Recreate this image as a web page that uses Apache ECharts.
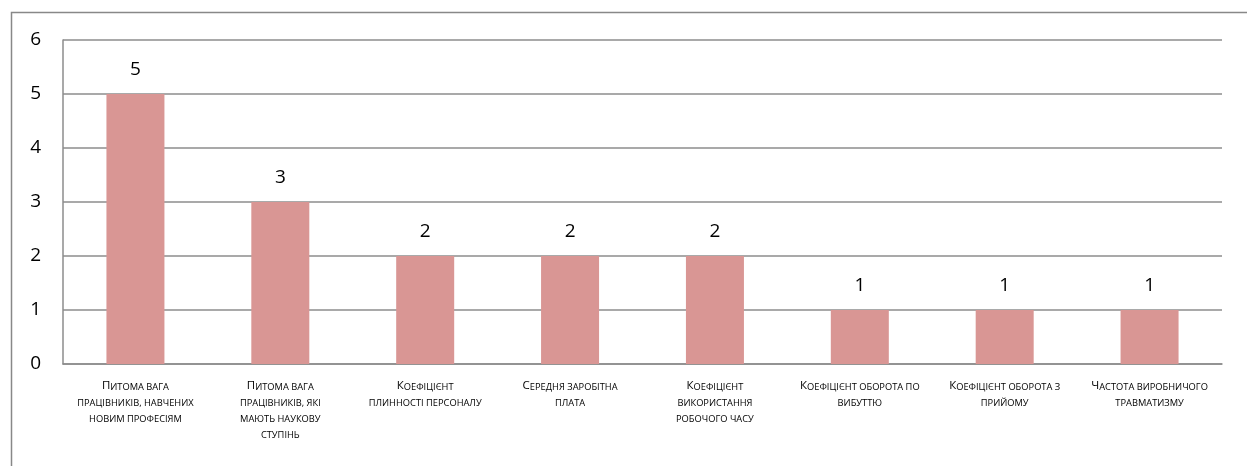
<!DOCTYPE html>
<html><head><meta charset="utf-8">
<script src="https://cdn.jsdelivr.net/npm/echarts@6/dist/echarts.min.js"></script>
<style>html,body{margin:0;padding:0;background:#fff}#c{width:1247px;height:466px}</style>
</head><body><div id="c"></div>
<script>
const categories = [
  'Питома вага\nпрацівників, навчених\nновим професіям',
  'Питома вага\nпрацівників, які\nмають наукову\nступінь',
  'Коефіцієнт\nплинності персоналу',
  'Середня заробітна\nплата',
  'Коефіцієнт\nвикористання\nробочого часу',
  'Коефіцієнт оборота по\nвибуттю',
  'Коефіцієнт оборота з\nприйому',
  'Частота виробничого\nтравматизму'
];
const values = [5, 3, 2, 2, 2, 1, 1, 1];
const yTicks = [0, 1, 2, 3, 4, 5, 6];

const FONT = '"Open Sans", "Liberation Sans", sans-serif';
function smallCaps(label) {
  return label.split('\n').map((line, i) => {
    if (i === 0) return '{b|' + line.charAt(0).toUpperCase() + '}{s|' + line.slice(1).toUpperCase() + '}';
    return '{s|' + line.toUpperCase() + '}';
  }).join('\n');
}

const chart = echarts.init(document.getElementById('c'), null, {renderer: 'canvas'});
chart.setOption({
  animation: false,
  backgroundColor: '#fff',
  graphic: [{
    type: 'rect', left: 9, top: 10, silent: true,
    shape: {x: 0, y: 0, width: 1260, height: 480},
    style: {fill: 'none', stroke: '#888', lineWidth: 1.5}
  }],
  grid: {left: 63, right: 25, top: 40, bottom: 102, containLabel: false},
  xAxis: {
    type: 'category',
    data: categories,
    axisLine: {show: true, lineStyle: {color: '#8c8c8c', width: 1.5}},
    axisTick: {show: false},
    axisLabel: {
      interval: 0,
      margin: 12,
      color: '#000',
      fontFamily: FONT,
      formatter: (v) => smallCaps(v),
      rich: {
        b: {fontSize: 11.5, fontFamily: FONT, fontWeight: 500, color: '#000', lineHeight: 16, verticalAlign: 'bottom'},
        s: {fontSize: 9.3, fontFamily: FONT, fontWeight: 500, color: '#000', lineHeight: 16, verticalAlign: 'bottom'}
      }
    }
  },
  yAxis: {
    type: 'value',
    min: yTicks[0], max: yTicks[yTicks.length - 1], interval: 1,
    axisLine: {show: true, lineStyle: {color: '#8c8c8c', width: 1.5}},
    axisTick: {show: false},
    splitLine: {show: true, lineStyle: {color: '#8c8c8c', width: 1.5}},
    axisLabel: {color: '#000', fontSize: 19, fontFamily: FONT, margin: 22, align: 'right'}
  },
  series: [{
    type: 'bar',
    data: values,
    barWidth: 58,
    itemStyle: {color: '#D99694'},
    label: {show: true, position: 'top', distance: 15, color: '#000', fontSize: 19, fontFamily: FONT}
  }]
});
</script>
</body></html>
